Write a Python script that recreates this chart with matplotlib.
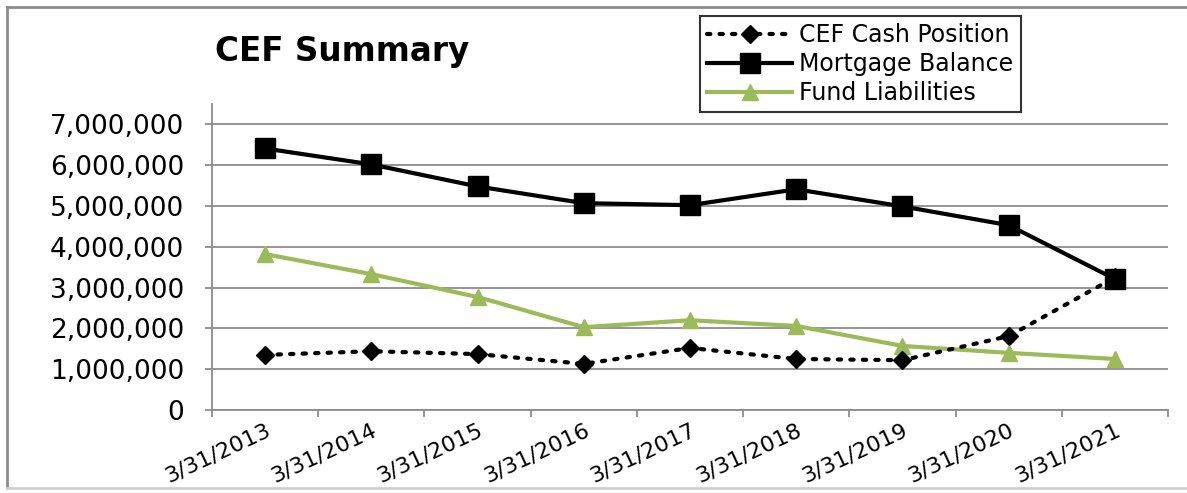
import matplotlib.pyplot as plt
from matplotlib.lines import Line2D
from matplotlib.ticker import FuncFormatter, FixedLocator

# chart values
dates = ["3/31/2013", "3/31/2014", "3/31/2015", "3/31/2016", "3/31/2017",
         "3/31/2018", "3/31/2019", "3/31/2020", "3/31/2021"]
cash_position = [1350000, 1440000, 1370000, 1130000, 1520000,
                 1250000, 1220000, 1810000, 3250000]
mortgage_balance = [6410000, 6020000, 5480000, 5070000, 5020000,
                    5410000, 4990000, 4530000, 3210000]
fund_liabilities = [3820000, 3330000, 2770000, 2030000, 2200000,
                    2060000, 1570000, 1400000, 1250000]

plt.rcParams['font.family'] = ['DejaVu Sans']

fig = plt.figure(figsize=(11.87, 4.93), dpi=100)
ax = fig.add_axes([0.1786, 0.1684, 0.8054, 0.6206])

x = list(range(len(dates)))
green = '#9bbb59'

ax.plot(x, cash_position, color='black', linestyle=(0, (0.8, 2.2)), linewidth=3,
        dash_capstyle='round', marker='D', markersize=9, zorder=4,
        label='CEF Cash Position')
ax.plot(x, mortgage_balance, color='black', linewidth=3, marker='s',
        markersize=14, zorder=3, label='Mortgage Balance')
ax.plot(x, fund_liabilities, color=green, linewidth=3, marker='^',
        markersize=12, zorder=3, label='Fund Liabilities')

ax.set_xlim(-0.5, len(dates) - 0.5)
ax.set_ylim(0, 7500000)
ax.set_yticks(range(0, 7000001, 1000000))
ax.yaxis.set_major_formatter(FuncFormatter(lambda v, p: f"{int(v):,}"))
ax.grid(axis='y', color='#8c8c8c', linewidth=1.3)
ax.set_axisbelow(True)

# category labels at the points, tick marks between categories
ax.set_xticks(x)
ax.set_xticklabels(dates, rotation=25, ha='right', rotation_mode='anchor',
                   fontsize=16)
ax.tick_params(axis='x', length=0, pad=7)
ax.xaxis.set_minor_locator(FixedLocator([i - 0.5 for i in range(len(dates) + 1)]))
ax.tick_params(axis='x', which='minor', length=5, color='#8c8c8c', width=1.3)
ax.tick_params(axis='y', length=5, color='#8c8c8c', width=1.3, labelsize=19, pad=15)

for s in ['top', 'right']:
    ax.spines[s].set_visible(False)
for s in ['left', 'bottom']:
    ax.spines[s].set_color('#8c8c8c')
    ax.spines[s].set_linewidth(1.3)

fig.text(0.181, 0.895, "CEF Summary", fontsize=23.5, fontweight='bold',
         va='center', ha='left')

leg = fig.legend(loc='upper left', bbox_to_anchor=(0.590, 0.968), fontsize=17,
                 frameon=True, fancybox=False, edgecolor='black',
                 handlelength=3.6, handletextpad=0.3, borderpad=0.3,
                 labelspacing=0.22, borderaxespad=0)
leg.get_frame().set_linewidth(1.5)

# outer frame of the picture
fig.add_artist(Line2D([0.006, 0.006], [0.01, 0.986], color='#8c8c8c', linewidth=2))
fig.add_artist(Line2D([0.006, 1.0], [0.986, 0.986], color='#8c8c8c', linewidth=2))
fig.add_artist(Line2D([0.006, 1.0], [0.01, 0.01], color='#d0d0d0', linewidth=2))

fig.savefig('out.png', dpi=100)
